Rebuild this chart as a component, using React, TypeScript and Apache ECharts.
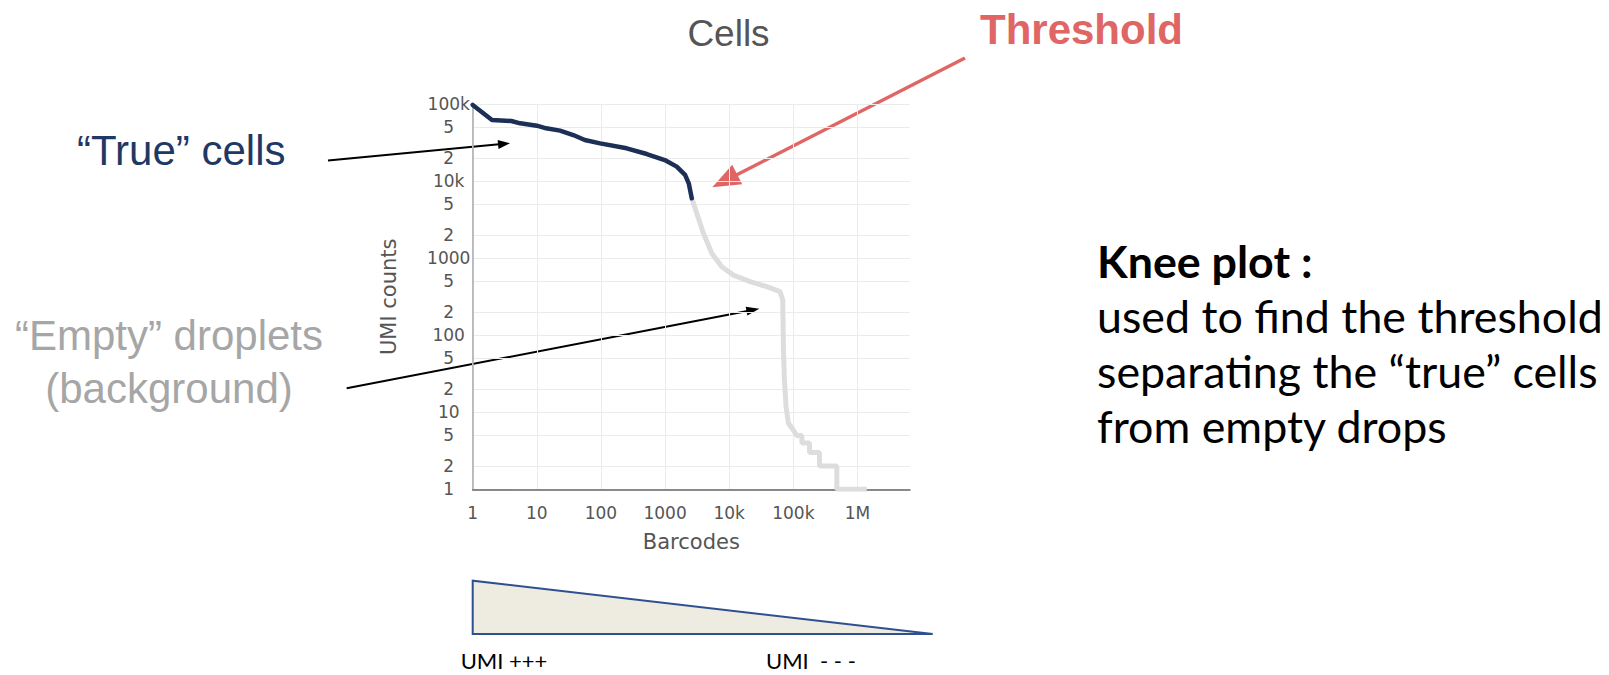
import React, { useEffect, useRef } from "react";
import * as echarts from "echarts";

// ---- data (barcode rank, UMI count) ----
const cellBarcodes = [1, 2, 4, 5.5, 10, 14, 23, 37, 56, 97, 252, 518, 988, 1520, 2050, 2340, 2610];
const cellUmi = [98000, 62500, 60700, 56600, 52800, 48800, 45500, 39900, 34400, 31100, 26800, 22600, 18900, 15500, 12100, 9420, 6010];
const bgBarcodes = [2610, 3120, 3960, 5350, 7660, 11600, 21200, 38500, 62200, 68400, 70000, 72600, 77100, 83800, 100000, 113000, 136000, 136000, 179000, 179000, 256000, 256000, 477000, 477000, 1400000];
const bgUmi = [6010, 3840, 2110, 1160, 778, 606, 498, 429, 369, 287, 71, 26, 11.8, 7.2, 5.9, 5, 5, 4, 4, 3, 3, 2, 2, 1, 1];

const xTickValues = [1, 10, 100, 1000, 10000, 100000, 1000000];
const xTickLabels = ["1", "10", "100", "1000", "10k", "100k", "1M"];
const yTickValues = [1, 2, 5, 10, 20, 50, 100, 200, 500, 1000, 2000, 5000, 10000, 20000, 50000, 100000];
const yTickLabels = ["1", "2", "5", "10", "2", "5", "100", "2", "5", "1000", "2", "5", "10k", "2", "5", "100k"];
const xAxisMax = 6.6e6;
const yAxisMax = 100000;

const kneeLines = ["used to find the threshold", "separating the \u201ctrue\u201d cells", "from empty drops"];

const lg = (v: number) => Math.log10(v);

function fitSize(text: string, family: string, weight: string, target: number, ref = 40) {
  try {
    const c = document.createElement("canvas").getContext("2d");
    if (!c) return ref;
    c.font = `${weight} ${ref}px ${family}`;
    const w = c.measureText(text).width;
    return w > 0 ? (ref * target) / w : ref;
  } catch (e) {
    return ref;
  }
}

function arrow(x1: number, y1: number, x2: number, y2: number, color: string, lw: number, hl: number, hw: number) {
  const dx = x2 - x1, dy = y2 - y1;
  const L = Math.hypot(dx, dy);
  const ux = dx / L, uy = dy / L;
  const bx = x2 - ux * hl, by = y2 - uy * hl;
  const px = -uy, py = ux;
  return [
    { type: "line", silent: true, shape: { x1, y1, x2: bx + ux, y2: by + uy }, style: { stroke: color, lineWidth: lw } },
    {
      type: "polygon",
      silent: true,
      shape: { points: [[x2, y2], [bx + (px * hw) / 2, by + (py * hw) / 2], [bx - (px * hw) / 2, by - (py * hw) / 2]] },
      style: { fill: color },
    },
  ];
}

function txt(text: string, x: number, y: number, size: number, color: string, family: string, weight = "normal", align = "left") {
  return {
    type: "text",
    silent: true,
    style: {
      text,
      x,
      y,
      fill: color,
      fontSize: size,
      fontFamily: family,
      fontWeight: weight,
      align,
      verticalAlign: "middle",
      textAlign: align,
      textVerticalAlign: "middle",
    },
  };
}

export default function App() {
  const ref = useRef<HTMLDivElement>(null);
  useEffect(() => {
    if (!ref.current) return;
    const chart = echarts.init(ref.current, undefined, { renderer: "svg" });
    const xLog = xTickValues.map(lg);
    const yLog = yTickValues.map(lg);
    const labelFor = (vals: number[], labels: string[]) => (v: number) => {
      const i = vals.findIndex((t) => Math.abs(t - v) < 1e-6);
      return i >= 0 ? labels[i] : "";
    };
    const axisFont = "'DejaVu Sans', Verdana, sans-serif";
    const arial = "'Liberation Sans', Arial, Helvetica, sans-serif";
    const kneeFamily = "Lato, 'Open Sans', sans-serif";
    const kneeSize = fitSize(kneeLines[0], kneeFamily, "normal", 506, 44);
    const kneeGap = 54.7;
    const kneeBase = 278;

    const graphics: any[] = [
      txt("Cells", 728.5, 33, 37, "#555555", arial, "normal", "center"),
      txt("Threshold", 980, 29, 42, "#e06666", arial, "bold"),
      txt("\u201cTrue\u201d cells", 77, 150, 42, "#1f3864", arial),
      txt("\u201cEmpty\u201d droplets", 169, 335, 42, "#a6a6a6", arial, "normal", "center"),
      txt("(background)", 169, 388, 42, "#a6a6a6", arial, "normal", "center"),
      txt("Knee plot :", 1097, kneeBase - kneeSize * 0.37, kneeSize, "#000000", kneeFamily, "bold"),
      ...kneeLines.map((l, i) => txt(l, 1097, kneeBase + kneeGap * (i + 1) - kneeSize * 0.37, kneeSize, "#000000", kneeFamily)),
      ...arrow(965, 58, 712.3, 187.3, "#e06666", 3.5, 28, 22),
      ...arrow(328, 160.5, 510, 143.3, "#000000", 2, 12, 9),
      ...arrow(346.7, 388.3, 759.3, 308.7, "#000000", 2, 13, 9),
      {
        type: "polygon",
        silent: true,
        shape: { points: [[472.7, 580.7], [472.7, 634], [932.7, 634]] },
        style: { fill: "#eeebe0", stroke: "#2f5090", lineWidth: 2 },
      },
      txt("UMI +++", 460.7, 660, 22, "#000000", kneeFamily),
      txt("UMI  - - -", 766, 660, 22, "#000000", kneeFamily),
    ];

    chart.setOption({
      animation: false,
      backgroundColor: "#ffffff",
      grid: { left: 472.7, top: 104.3, width: 437.3, height: 385, containLabel: false },
      xAxis: {
        type: "value",
        min: 0,
        max: lg(xAxisMax),
        name: "Barcodes",
        nameLocation: "middle",
        nameGap: 42,
        nameTextStyle: { fontSize: 21, color: "#555555", fontFamily: axisFont },
        axisLine: { show: true, onZero: false, lineStyle: { color: "#666666", width: 1.5 } },
        axisTick: { show: false, customValues: xLog },
        axisLabel: {
          customValues: xLog,
          formatter: labelFor(xLog, xTickLabels),
          margin: 15,
          fontSize: 17,
          color: "#555555",
          fontFamily: axisFont,
        },
        splitLine: { show: true, lineStyle: { color: "#ebebeb", width: 1 } },
      },
      yAxis: {
        type: "value",
        min: 0,
        max: lg(yAxisMax),
        name: "UMI counts",
        nameLocation: "middle",
        nameGap: 73,
        nameRotate: 90,
        nameTextStyle: { fontSize: 21, color: "#555555", fontFamily: axisFont },
        axisLine: { show: true, onZero: false, lineStyle: { color: "#aaaaaa", width: 1.5 } },
        axisTick: { show: false, customValues: yLog },
        axisLabel: {
          customValues: yLog,
          formatter: labelFor(yLog, yTickLabels),
          margin: 24,
          align: "center",
          fontSize: 17,
          color: "#555555",
          fontFamily: axisFont,
        },
        splitLine: { show: true, lineStyle: { color: "#ebebeb", width: 1 } },
      },
      series: [
        {
          name: "Empty droplets",
          type: "line",
          showSymbol: false,
          symbol: "none",
          lineStyle: { color: "#dddddd", width: 5 },
          data: bgBarcodes.map((b, i) => [lg(b), lg(bgUmi[i])]),
          z: 2,
        },
        {
          name: "True cells",
          type: "line",
          showSymbol: false,
          symbol: "none",
          lineStyle: { color: "#1c2f57", width: 4.5, cap: "round", join: "round" },
          data: cellBarcodes.map((b, i) => [lg(b), lg(cellUmi[i])]),
          z: 3,
        },
      ],
      graphic: graphics,
    });
    return () => chart.dispose();
  }, []);
  return <div ref={ref} style={{ position: "absolute", left: 0, top: 0, width: 1609, height: 675 }} />;
}
